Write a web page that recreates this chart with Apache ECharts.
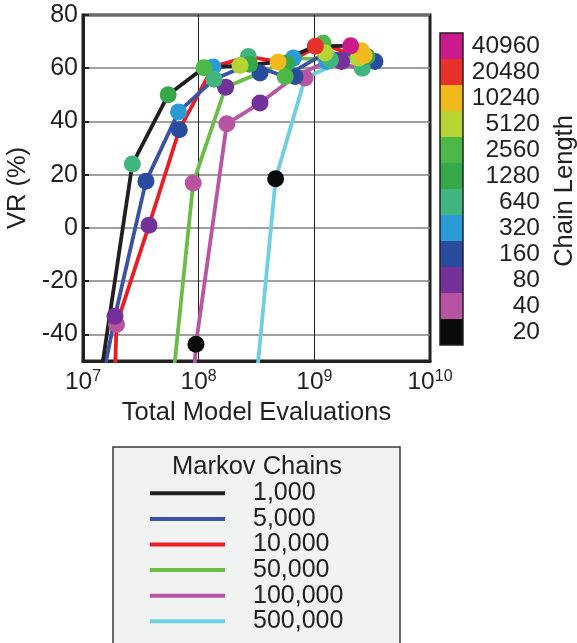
<!DOCTYPE html>
<html>
<head>
<meta charset="utf-8">
<script src="https://cdn.jsdelivr.net/npm/echarts@6/dist/echarts.min.js"></script>
<style>
  html, body { margin: 0; padding: 0; background: #ffffff; }
  #chart { width: 577px; height: 643px; }
</style>
</head>
<body>
<div id="chart"></div>
<script>
// Chain lengths shown on the colour bar, and their colours
const chainLengths = [20, 40, 80, 160, 320, 640, 1280, 2560, 5120, 10240, 20480, 40960];
const chainColors = ['#0a0a0a', '#b654a1', '#74319a', '#2a4c9f', '#2b9bd8', '#41b57f',
                     '#35a849', '#4cb848', '#b6d433', '#f2b91c', '#e8312a', '#cb1a8c'];

// Markov chain counts (one line each) and their line colours
const chainCounts = ['1,000', '5,000', '10,000', '50,000', '100,000', '500,000'];
const lineColors = ['#231f20', '#3a53a4', '#ed1c24', '#6abd45', '#b855a5', '#6dcfe0'];

// 1,000 chains
const len1k = [320, 640, 1280, 2560, 5120, 10240, 20480, 40960];
const evals1k = [1.32e7, 2.67e7, 5.45e7, 1.11e8, 2.28e8, 4.86e8, 1.02e9, 2.06e9];
const vr1k = [-65, 24.0, 50.0, 60.2, 61.0, 62.3, 68.3, 68.4];

// 5,000 chains
const len5k = [40, 80, 160, 320, 640, 1280, 2560, 5120, 10240];
const evals5k = [9.4e6, 1.89e7, 3.5e7, 6.7e7, 1.36e8, 2.75e8, 5.6e8, 1.24e9, 2.7e9];
const vr5k = [-100, -33.2, 17.5, 43.6, 55.9, 61.5, 56.9, 65.7, 64.8];

// 10,000 chains
const len10k = [20, 40, 80, 160, 320, 640, 1280, 2560, 5120, 10240];
const evals10k = [9.6e6, 1.95e7, 3.72e7, 6.8e7, 1.33e8, 2.69e8, 5.75e8, 1.19e9, 2.4e9, 2.56e9];
const vr10k = [-450, -36.3, 1.0, 36.9, 60.5, 64.4, 61.9, 69.4, 63.8, 66.6];

// 50,000 chains
const len50k = [10, 40, 80, 160, 320, 640, 1280];
const evals50k = [4.19e7, 8.97e7, 1.71e8, 3.39e8, 6.58e8, 1.38e9, 2.85e9];
const vr50k = [-122.6, 16.9, 52.9, 58.2, 63.8, 63.2, 64.4];

// 100,000 chains
const len100k = [10, 20, 40, 80, 160, 320, 640];
const evals100k = [4.72e7, 9.47e7, 1.75e8, 3.39e8, 6.8e8, 1.28e9, 2.6e9];
const vr100k = [-254, -43.7, 39.1, 46.9, 56.9, 62.5, 60.0];

// 500,000 chains
const len500k = [10, 20, 40, 80, 160];
const evals500k = [2.32e8, 4.63e8, 8.3e8, 1.72e9, 3.34e9];
const vr500k = [-117.7, 18.5, 56.3, 62.5, 62.5];

// Axis ticks
const xTicks = [1e7, 1e8, 1e9, 1e10];
const yTicks = [-40, -20, 0, 20, 40, 60, 80];

const FONT = 'Liberation Sans, Arial, Helvetica, sans-serif';
const INK = '#231f20';

function colorForLength(L) {
  const i = chainLengths.indexOf(L);
  return i >= 0 ? chainColors[i] : '#000000';
}

function buildData(lengths, evals, vr) {
  return lengths.map((L, i) => ({
    value: [evals[i], vr[i], L],
    itemStyle: { color: colorForLength(L) }
  }));
}

const groups = [
  [len1k, evals1k, vr1k],
  [len5k, evals5k, vr5k],
  [len10k, evals10k, vr10k],
  [len50k, evals50k, vr50k],
  [len100k, evals100k, vr100k],
  [len500k, evals500k, vr500k]
];

// Fewer chains are drawn on top, so the series go in reverse order
const series = groups.map((g, k) => ({
  name: chainCounts[k],
  type: 'line',
  data: buildData(g[0], g[1], g[2]),
  symbol: 'circle',
  symbolSize: 17,
  showAllSymbol: true,
  clip: true,
  itemStyle: { color: lineColors[k] },
  lineStyle: { color: lineColors[k], width: 3.8 },
  emphasis: { disabled: true },
  animation: false
})).reverse();

const chart = echarts.init(document.getElementById('chart'), null, { renderer: 'canvas' });

chart.setOption({
  backgroundColor: '#ffffff',
  animation: false,
  textStyle: { fontFamily: FONT },
  grid: {
    left: 83, top: 15, width: 347, height: 346,
    outerBoundsMode: 'none',
    containLabel: false,
    show: true, borderColor: INK, borderWidth: 3, backgroundColor: 'transparent'
  },
  xAxis: {
    type: 'log',
    logBase: 10,
    min: xTicks[0],
    max: xTicks[xTicks.length - 1],
    name: 'Total Model Evaluations',
    nameLocation: 'middle',
    nameGap: 34,
    nameTextStyle: { fontSize: 25.5, color: INK, fontFamily: FONT },
    axisLine: { show: true, onZero: false, lineStyle: { color: INK, width: 3 } },
    axisTick: { show: false },
    minorTick: { show: false },
    splitLine: { show: true, lineStyle: { color: INK, width: 1 } },
    axisLabel: {
      margin: 8,
      color: INK,
      formatter: function (v) {
        const e = Math.round(Math.log10(v));
        return '{b|10}{s|' + e + '}';
      },
      rich: {
        b: { fontSize: 24.5, fontFamily: FONT, color: INK },
        s: { fontSize: 16, fontFamily: FONT, color: INK, padding: [0, 0, 11, 0] }
      }
    }
  },
  yAxis: {
    type: 'value',
    min: -50,
    max: 80,
    name: 'VR (%)',
    nameLocation: 'middle',
    nameGap: 39,
    nameRotate: 90,
    nameTextStyle: { fontSize: 25.5, color: INK, fontFamily: FONT },
    axisLine: { show: true, onZero: false, lineStyle: { color: INK, width: 3 } },
    axisTick: { show: true, inside: true, length: 6, customValues: yTicks, lineStyle: { color: INK, width: 2 } },
    axisLabel: { customValues: yTicks, fontSize: 25, color: INK, margin: 5, fontFamily: FONT },
    splitLine: { show: true, lineStyle: { color: '#808080', width: 1.5 } }
  },
  legend: {
    data: chainCounts,
    orient: 'vertical',
    left: 145,
    top: 475.5,
    icon: 'rect',
    itemWidth: 75,
    itemHeight: 4,
    itemGap: 0,
    selectedMode: false,
    textStyle: { fontSize: 25, color: INK, fontFamily: FONT, lineHeight: 25.6, padding: [0, 0, 0, 23] }
  },
  visualMap: {
    type: 'piecewise',
    dimension: 2,
    orient: 'vertical',
    align: 'left',
    left: 440,
    top: 33,
    padding: 0,
    itemWidth: 23,
    itemHeight: 26,
    itemGap: 0,
    itemSymbol: 'rect',
    textGap: 7,
    selectedMode: false,
    hoverLink: false,
    pieces: chainLengths.map((L, i) => ({ value: L, color: chainColors[i] })),
    formatter: function (v) { return '{n|' + v + '}'; },
    textStyle: {
      fontSize: 24.5, color: INK, fontFamily: FONT,
      rich: { n: { width: 70, align: 'right', fontSize: 24.5, fontFamily: FONT, color: INK } }
    },
    outOfRange: { color: '#000000' }
  },
  graphic: [
    {
      type: 'rect', z: -10,
      shape: { x: 113, y: 447, width: 287, height: 210 },
      style: { fill: '#f1f2f2', stroke: '#3a3a3a', lineWidth: 1.5 }
    },
    {
      type: 'text', z: 10,
      style: { x: 257, y: 467, text: 'Markov Chains', fontSize: 25.5, fontFamily: FONT, fill: INK, align: 'center', verticalAlign: 'middle' }
    },
    {
      type: 'rect', z: 10,
      shape: { x: 440, y: 33, width: 23, height: 312 },
      style: { fill: 'none', stroke: INK, lineWidth: 1.5 }
    },
    {
      type: 'text', z: 10,
      x: 565, y: 191, rotation: Math.PI / 2,
      style: { x: 0, y: 0, text: 'Chain Length', fontSize: 25.5, fontFamily: FONT, fill: INK, align: 'center', verticalAlign: 'middle' }
    }
  ],
  series: series
});
</script>
</body>
</html>
